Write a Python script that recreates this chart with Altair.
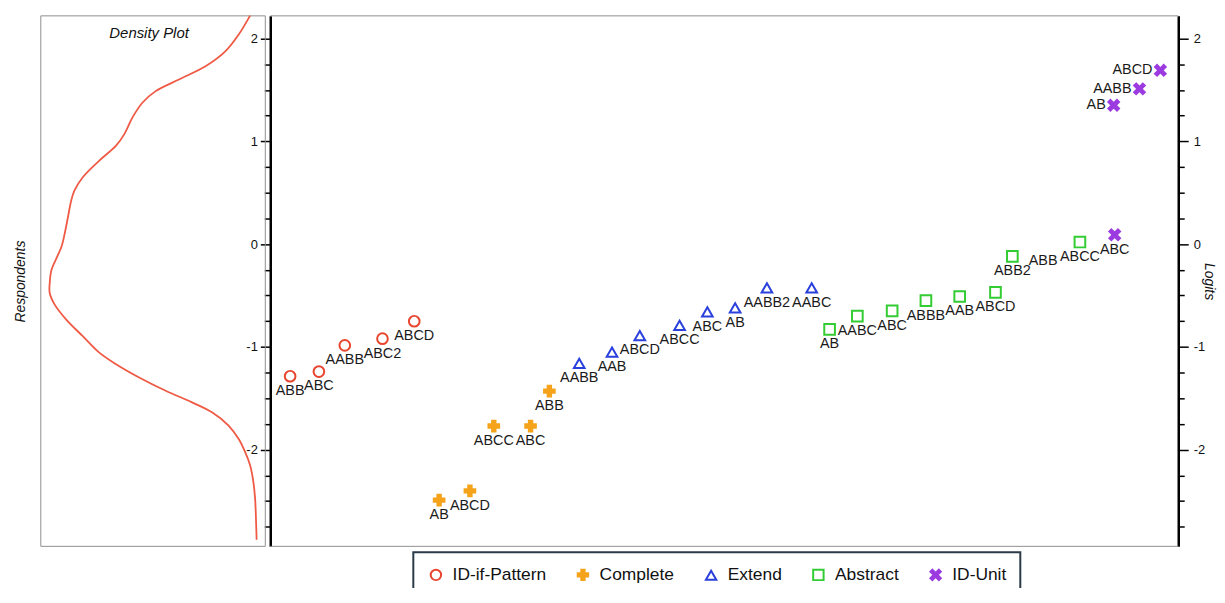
import altair as alt
import pandas as pd

# ---------------- data ----------------
GROUPS = ["ID-if-Pattern", "Complete", "Extend", "Abstract", "ID-Unit"]

IDP_LABELS = ["ABB", "ABC", "AABB", "ABC2", "ABCD"]
IDP_POS = [2.19, 5.36, 8.21, 12.36, 15.86]
IDP_LOGIT = [-1.285, -1.24, -0.985, -0.92, -0.75]

CMP_LABELS = ["AB", "ABCD", "ABCC", "ABC", "ABB"]
CMP_POS = [18.60, 21.99, 24.62, 28.67, 30.74]
CMP_LOGIT = [-2.49, -2.40, -1.77, -1.77, -1.43]

EXT_LABELS = ["AABB", "AAB", "ABCD", "ABCC", "ABC", "AB", "AABB2", "AABC"]
EXT_POS = [34.03, 37.64, 40.70, 45.08, 48.14, 51.20, 54.70, 59.63]
EXT_LOGIT = [-1.16, -1.05, -0.89, -0.79, -0.66, -0.62, -0.425, -0.425]

ABS_LABELS = ["AB", "AABC", "ABC", "ABBB", "AAB", "ABCD", "ABB2", "ABB", "ABCC"]
ABS_POS = [61.60, 64.66, 68.49, 72.21, 75.93, 79.87, 81.73, 85.12, 89.17]
ABS_LOGIT = [-0.83, -0.70, -0.65, -0.55, -0.51, -0.47, -0.12, -0.02, 0.02]

IDU_LABELS = ["ABC", "AB", "AABB", "ABCD"]
IDU_POS = [93.00, 92.89, 95.73, 98.03]
IDU_LOGIT = [0.09, 1.35, 1.51, 1.69]

# density curve of respondents (logit, density)
DENS_LOGIT = [2.222, 2.036, 1.874, 1.729, 1.601, 1.488, 1.375, 1.230, 1.070,
              0.957, 0.812, 0.650, 0.522, 0.425, 0.264, 0.103, -0.026, -0.138,
              -0.251, -0.380, -0.476, -0.589, -0.734, -0.896, -1.056, -1.169,
              -1.298, -1.427, -1.539, -1.636, -1.765, -1.894, -2.022, -2.152,
              -2.312, -2.473, -2.667, -2.876]
DENS_VALUE = [0.038, 0.091, 0.152, 0.243, 0.365, 0.472, 0.533, 0.579, 0.616,
              0.654, 0.731, 0.807, 0.845, 0.860, 0.875, 0.890, 0.905, 0.928,
              0.951, 0.959, 0.959, 0.936, 0.883, 0.807, 0.731, 0.654,
              0.548, 0.426, 0.305, 0.213, 0.137, 0.091, 0.061, 0.038,
              0.023, 0.015, 0.011, 0.008]

TICK_VALUES = [-2.75, -2.5, -2.25, -2.0, -1.75, -1.5, -1.25, -1.0, -0.75, -0.5,
               -0.25, 0.0, 0.25, 0.5, 0.75, 1.0, 1.25, 1.5, 1.75, 2.0]

# label placement (left of the marker instead of below) and label-only items
LEFT_LABELED = {("ID-Unit", "AB"), ("ID-Unit", "AABB"), ("ID-Unit", "ABCD")}
MARKER_HIDDEN = {("Abstract", "ABB")}

# ---------------- tables ----------------
rows = []
for g, labs, pos, lg in [
    (GROUPS[0], IDP_LABELS, IDP_POS, IDP_LOGIT),
    (GROUPS[1], CMP_LABELS, CMP_POS, CMP_LOGIT),
    (GROUPS[2], EXT_LABELS, EXT_POS, EXT_LOGIT),
    (GROUPS[3], ABS_LABELS, ABS_POS, ABS_LOGIT),
    (GROUPS[4], IDU_LABELS, IDU_POS, IDU_LOGIT),
]:
    for l, p, v in zip(labs, pos, lg):
        rows.append({
            "group": g, "item": l, "pos": p, "logit": v,
            "side": "left" if (g, l) in LEFT_LABELED else "below",
            "marker": 0 if (g, l) in MARKER_HIDDEN else 1,
        })
df = pd.DataFrame(rows)
dens = pd.DataFrame({"logit": DENS_LOGIT, "density": DENS_VALUE})

# ---------------- styling ----------------
FONT = "Liberation Sans"
W, H = 1145, 534
LEFT_W = 226          # density panel width
MAIN_X0 = 231         # main panel starts here (px from left of plot area)

yscale = alt.Scale(domain=[-2.94, 2.22], nice=False, zero=False)
xmain = alt.Scale(domain=[-25.27, 100], nice=False, zero=False)
xdens = alt.Scale(domain=[-4.228, 1.0], reverse=True, nice=False, zero=False)

PLUS = "M-0.32,-1L0.32,-1L0.32,-0.32L1,-0.32L1,0.32L0.32,0.32L0.32,1L-0.32,1L-0.32,0.32L-1,0.32L-1,-0.32L-0.32,-0.32Z"
XSHAPE = "M-0.62,-1L0,-0.38L0.62,-1L1,-0.62L0.38,0L1,0.62L0.62,1L0,0.38L-0.62,1L-1,0.62L-0.38,0L-1,-0.62Z"

COLORS = ["#e8452f", "#f5a31a", "#2a40dc", "#33cc33", "#9b3be0"]
FILLS = ["transparent", "#f5a31a", "transparent", "transparent", "#9b3be0"]
SHAPES = ["circle", PLUS, "triangle-up", "square", XSHAPE]

tick_size = {"condition": {"test": "datum.value % 1 === 0", "value": 10}, "value": 6}
label_expr = "datum.value % 1 === 0 ? '' + datum.value : ''"

legend = alt.Legend(
    title=None, orient="none", legendX=375, legendY=540, direction="horizontal",
    strokeColor="#2b3a47", padding=14, labelFontSize=17.5, labelFont=FONT,
    labelColor="#111111", symbolSize=110, symbolStrokeWidth=2, symbolOpacity=1,
    columnPadding=27, labelOffset=8, fillColor="white",
)

one = alt.Data(values=[{"a": 1}])

# frames
left_box = alt.Chart(one).mark_rect(fillOpacity=0, stroke="#8f8f8f", strokeWidth=1).encode(
    x=alt.value(0), x2=alt.value(LEFT_W), y=alt.value(0), y2=alt.value(H))
top_line = alt.Chart(one).mark_rule(color="#8f8f8f", strokeWidth=1).encode(
    x=alt.value(MAIN_X0), x2=alt.value(W), y=alt.value(0))
bot_line = alt.Chart(one).mark_rule(color="#8f8f8f", strokeWidth=1).encode(
    x=alt.value(MAIN_X0), x2=alt.value(W), y=alt.value(H))
dens_title = alt.Chart(one).mark_text(
    text="Density Plot", font=FONT, fontSize=15, fontStyle="italic", color="#111111"
).encode(x=alt.value(109), y=alt.value(17))

# density line
dens_line = alt.Chart(dens).mark_line(
    color="#ef5a45", strokeWidth=1.8, interpolate="catmull-rom"
).encode(
    x=alt.X("density:Q", scale=xdens, axis=None),
    y=alt.Y("logit:Q", scale=yscale, axis=alt.Axis(
        orient="left", title="Respondents", titleFontStyle="italic", titleFontWeight="normal",
        titleFont=FONT, titleFontSize=14, titleColor="#111111", labels=False, ticks=False,
        domain=False, grid=False, minExtent=0, titlePadding=13)),
    order=alt.Order("logit:Q"),
)

# points
points = alt.Chart(df).transform_filter("datum.marker == 1").mark_point(
    opacity=1, strokeWidth=2, size=115
).encode(
    x=alt.X("pos:Q", scale=xmain, axis=None),
    y=alt.Y("logit:Q", scale=yscale, axis=alt.Axis(
        orient="left", offset=-MAIN_X0, values=TICK_VALUES, labelExpr=label_expr,
        tickSize=tick_size, tickWidth=1.5, tickColor="black", domainColor="black",
        domainWidth=2.5, grid=False, title=None, labelFontSize=13, labelFont=FONT,
        labelColor="#111111", labelPadding=3)),
    shape=alt.Shape("group:N", scale=alt.Scale(domain=GROUPS, range=SHAPES), legend=legend),
    stroke=alt.Stroke("group:N", scale=alt.Scale(domain=GROUPS, range=COLORS), legend=legend),
    fill=alt.Fill("group:N", scale=alt.Scale(domain=GROUPS, range=FILLS), legend=legend),
)

# labels below the markers (carry the right axis)
labels_below = alt.Chart(df).transform_filter("datum.side == 'below'").mark_text(
    font=FONT, fontSize=14.5, color="#1a1a1a", align="center", baseline="middle", dy=15
).encode(
    x=alt.X("pos:Q", scale=xmain, axis=None),
    y=alt.Y("logit:Q", scale=yscale, axis=alt.Axis(
        orient="right", values=TICK_VALUES, labelExpr=label_expr,
        tickSize=tick_size, tickWidth=1.5, tickColor="black", domainColor="black",
        domainWidth=2.5, grid=False, title="Logits", titleFontStyle="italic",
        titleFontWeight="normal", titleFont=FONT, titleFontSize=14, titleColor="#111111",
        titlePadding=-3, labelFontSize=13, labelFont=FONT, labelColor="#111111",
        labelPadding=5, minExtent=0)),
    text="item:N",
)

labels_left = alt.Chart(df).transform_filter("datum.side == 'left'").mark_text(
    font=FONT, fontSize=14.5, color="#1a1a1a", align="right", baseline="middle", dx=-8
).encode(
    x=alt.X("pos:Q", scale=xmain, axis=None),
    y=alt.Y("logit:Q", scale=yscale, axis=None),
    text="item:N",
)

chart = alt.layer(
    left_box, top_line, bot_line, dens_title, dens_line, points, labels_below, labels_left
).resolve_scale(
    x="independent"
).resolve_axis(
    y="independent"
).properties(
    width=W, height=H,
    padding={"left": 33, "top": 6, "right": 39, "bottom": 40},
    autosize=alt.AutoSizeParams(type="none"),
    background="white",
).configure_view(stroke=None).configure_legend(strokeWidth=2)

chart.save("out.html", embed_options={"renderer": "svg", "actions": False})
